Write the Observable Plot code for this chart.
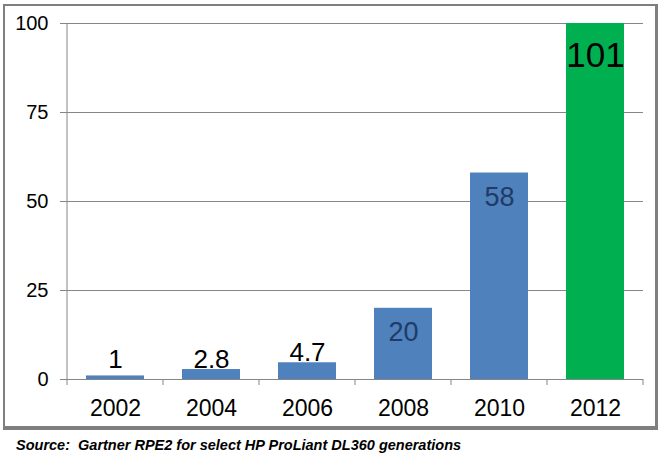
<!DOCTYPE html>
<html>
<head>
<meta charset="utf-8">
<script src="https://cdn.jsdelivr.net/npm/d3@7"></script>
<script src="https://cdn.jsdelivr.net/npm/@observablehq/plot@0.6"></script>
<style>
  html, body { margin: 0; padding: 0; background: #fff; }
  body { position: relative; width: 661px; height: 461px; overflow: hidden; font-family: "Liberation Sans", Arial, sans-serif; }
  #chart { position: absolute; left: 0; top: 0; }
  #frame { position: absolute; left: 3px; top: 4px; width: 655px; height: 426px; box-sizing: border-box;
           border-style: solid; border-color: #7f7f7f; border-width: 2px 3px 4px 2px; pointer-events: none; }
  #caption { position: absolute; left: 16px; top: 437.5px; font-size: 14.5px; line-height: 1; font-weight: bold; font-style: italic; color: #000; white-space: nowrap; }
</style>
</head>
<body>
<div id="chart"></div>
<div id="frame"></div>
<div id="caption">Source:&nbsp; Gartner RPE2 for select HP ProLiant DL360 generations</div>
<script>
const years = ["2002", "2004", "2006", "2008", "2010", "2012"];
const values = [1, 2.8, 4.7, 20, 58, 101];
const labels = ["1", "2.8", "4.7", "20", "58", "101"];
const colors = ["#4f81bd", "#4f81bd", "#4f81bd", "#4f81bd", "#4f81bd", "#00b050"];
const yTicks = [0, 25, 50, 75, 100];
const labelStyle = ["outside", "outside", "outside", "inside", "inside", "big"];

const data = years.map((year, i) => ({year, value: values[i], label: labels[i], color: colors[i], style: labelStyle[i]}));

const gray = "#868686";
const font = "'Liberation Sans', Arial, sans-serif";

// boundary ticks between categories and the y axis line, placed from the scales
function boundaryTicks(index, scales, values, dimensions) {
  const x = scales.x, y = scales.y;
  const bw = x.bandwidth();
  const centers = years.map(d => x(d) + bw / 2);
  const step = centers[1] - centers[0];
  const bounds = [centers[0] - step / 2, ...centers.map(c => c + step / 2)];
  const g = d3.create("svg:g");
  const y0 = y(0);
  for (const b of bounds) {
    g.append("line").attr("x1", b).attr("x2", b).attr("y1", y0).attr("y2", y0 + 6)
      .attr("stroke", gray).attr("stroke-width", 1);
  }
  g.append("line").attr("x1", bounds[0]).attr("x2", bounds[0]).attr("y1", y(100)).attr("y2", y0)
    .attr("stroke", gray).attr("stroke-width", 1);
  return g.node();
}

const chart = Plot.plot({
  width: 661,
  height: 432,
  marginLeft: 67,
  marginRight: 18,
  marginTop: 23,
  marginBottom: 53,
  style: {fontFamily: font, background: "transparent", color: "#000"},
  x: {domain: years, paddingInner: 0.4, paddingOuter: 0.2, label: null},
  y: {domain: [0, 100], clamp: true, label: null},
  marks: [
    Plot.gridY(yTicks.filter(d => d > 0), {stroke: gray, strokeOpacity: 1, strokeWidth: 1}),
    Plot.axisY(yTicks, {tickSize: 7, tickPadding: 12, fontSize: 20, stroke: gray, fill: "#000", label: null}),
    Plot.axisX({tickSize: 0, tickPadding: 19.8, fontSize: 23, fill: "#000", label: null}),
    Plot.barY(data, {x: "year", y: "value", fill: "color"}),
    Plot.ruleY([0], {stroke: gray, strokeWidth: 1}),
    boundaryTicks,
    Plot.text(data.filter(d => d.style === "outside"), {
      x: "year", y: d => Math.max(d.value, 2.8), text: "label",
      lineAnchor: "bottom", dy: -2, fontSize: 26, fill: "#000"
    }),
    Plot.text(data.filter(d => d.style === "inside"), {
      x: "year", y: "value", text: "label",
      lineAnchor: "top", dy: 14, fontSize: 27, fill: "#1f3b66"
    }),
    Plot.text(data.filter(d => d.style === "big"), {
      x: "year", y: "value", text: "label",
      lineAnchor: "top", dy: 19, fontSize: 35, fill: "#000"
    })
  ]
});
document.getElementById("chart").appendChild(chart);
</script>
</body>
</html>
